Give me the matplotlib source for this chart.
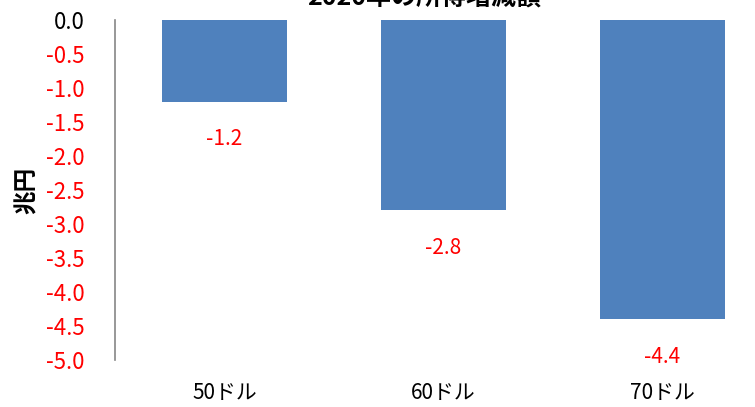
import matplotlib.pyplot as plt

plt.rcParams['font.family'] = ['Noto Sans CJK JP', 'DejaVu Sans']

# data
categories = ["50ドル", "60ドル", "70ドル"]
values = [-1.2, -2.8, -4.4]
yticks = [0.0, -0.5, -1.0, -1.5, -2.0, -2.5, -3.0, -3.5, -4.0, -4.5, -5.0]

fig = plt.figure(figsize=(7.55, 4.07), dpi=100)
ax = fig.add_axes([115 / 755, 1 - 360 / 407, 657 / 755, 340 / 407])

x = range(len(categories))
ax.bar(x, values, width=0.57, color="#4f81bd")

# value labels below each bar
for xi, v in zip(x, values):
    ax.annotate(f"{v:.1f}", (xi, v), xytext=(0, -19), textcoords="offset points",
                ha="center", va="top", color="red", fontsize=15)

ax.set_xlim(-0.5, 2.5)
ax.set_ylim(-5.0, 0.0)
ax.set_yticks(yticks)
ax.set_yticklabels([f"{t:.1f}" for t in yticks], fontsize=16)
for lab, t in zip(ax.get_yticklabels(), yticks):
    lab.set_color("black" if t == 0 else "red")
ax.tick_params(axis="y", length=0, pad=22)

ax.set_xticks([])
for xi, c in zip(x, categories):
    ax.text(xi, -5.33, c, ha="center", va="top", fontsize=15,
            color="black", clip_on=False)

for s in ["top", "right", "bottom"]:
    ax.spines[s].set_visible(False)
ax.spines["left"].set_color("#868686")
ax.spines["left"].set_linewidth(1.2)

fig.text(27 / 755, 1 - 190 / 407, "兆円", rotation=90, ha="center", va="center",
         fontsize=17, fontweight="bold")
fig.text(424 / 755, 1 - 6 / 407, "2020年の所得増減額", ha="center", va="baseline",
         fontsize=18, fontweight="bold")

fig.savefig("out.png", dpi=100)
